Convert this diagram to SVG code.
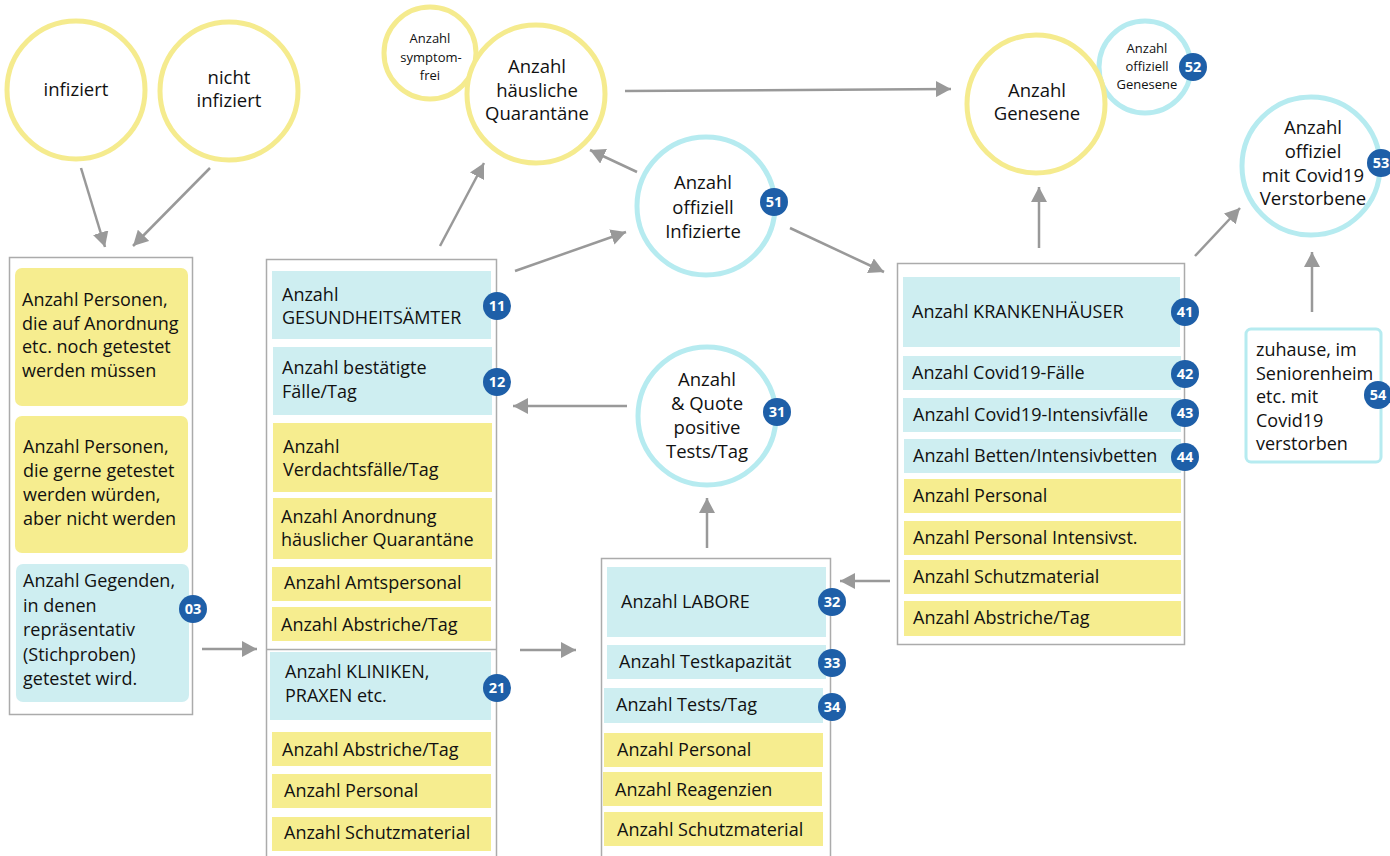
<svg xmlns="http://www.w3.org/2000/svg" width="1390" height="856" viewBox="0 0 1390 856">
<defs>
<marker id="ah" markerUnits="userSpaceOnUse" markerWidth="16" markerHeight="16" refX="15" refY="8" orient="auto">
<path d="M0,0 L15,8 L0,16 z" fill="#999"/>
</marker>
<style>
.t{font-family:"Open Sans","Noto Sans","Liberation Sans",sans-serif;font-size:18px;font-weight:500;fill:#111}
.c{text-anchor:middle;font-size:18.5px}
.s{text-anchor:middle;font-size:13px}
.y{fill:#F6ED8F}
.b{fill:#CEEEF1}
.frame{fill:none;stroke:#ABABAB;stroke-width:1.5}
.cy{fill:#fff;stroke:#F5EB8E;stroke-width:5}
.cb{fill:#fff;stroke:#B6EBF0;stroke-width:5}
.badge circle{fill:#1E5FA8}
.badge text{font-family:"Open Sans","Noto Sans","Liberation Sans",sans-serif;font-size:14.5px;font-weight:bold;fill:#fff;text-anchor:middle}
.ar{stroke:#999;stroke-width:2.5;fill:none;marker-end:url(#ah)}
</style>
</defs>
<rect width="1390" height="856" fill="#fff"/>

<g id="connectors">
<line class="ar" x1="81" y1="168" x2="105" y2="247"/>
<line class="ar" x1="210" y1="168" x2="133" y2="246"/>
<line class="ar" x1="202" y1="649" x2="257" y2="649"/>
<line class="ar" x1="440" y1="246" x2="484" y2="163"/>
<line class="ar" x1="515" y1="271" x2="626" y2="232"/>
<line class="ar" x1="637" y1="172" x2="590" y2="150"/>
<line class="ar" x1="625" y1="91" x2="951" y2="89"/>
<line class="ar" x1="627" y1="406" x2="513" y2="406"/>
<line class="ar" x1="520" y1="650" x2="576" y2="650"/>
<line class="ar" x1="707" y1="548" x2="707" y2="498"/>
<line class="ar" x1="890" y1="581" x2="840" y2="581"/>
<line class="ar" x1="790" y1="228" x2="884" y2="272"/>
<line class="ar" x1="1039" y1="248" x2="1039" y2="187"/>
<line class="ar" x1="1195" y1="256" x2="1240" y2="208"/>
<line class="ar" x1="1312" y1="312" x2="1312" y2="252"/>
</g>

<g id="infiziert">
<circle class="cy" cx="76" cy="90" r="69"/>
<text class="t c" x="76" y="96">infiziert</text>
</g>
<g id="nicht-infiziert">
<circle class="cy" cx="229" cy="91" r="69"/>
<text class="t c" x="229" y="84">nicht</text>
<text class="t c" x="229" y="107">infiziert</text>
</g>

<g id="links">
<rect class="frame" x="9.5" y="257.5" width="183" height="457"/>
<rect class="y" x="15" y="268" width="173" height="138" rx="7"/>
<text class="t" x="22" y="306">Anzahl Personen,</text>
<text class="t" x="22" y="329.5">die auf Anordnung</text>
<text class="t" x="22" y="353">etc. noch getestet</text>
<text class="t" x="22" y="376.5">werden müssen</text>
<rect class="y" x="15" y="416" width="173" height="137" rx="7"/>
<text class="t" x="23" y="453">Anzahl Personen,</text>
<text class="t" x="23" y="477">die gerne getestet</text>
<text class="t" x="23" y="501">werden würden,</text>
<text class="t" x="23" y="525">aber nicht werden</text>
<rect class="b" x="16" y="564" width="173" height="138" rx="7"/>
<text class="t" x="23" y="587">Anzahl Gegenden,</text>
<text class="t" x="23" y="611.5">in denen</text>
<text class="t" x="23" y="636">repräsentativ</text>
<text class="t" x="23" y="660.5">(Stichproben)</text>
<text class="t" x="23" y="685">getestet wird.</text>
<g class="badge"><circle cx="193" cy="609" r="14"/><text x="193" y="614">03</text></g>
</g>

<g id="gesundheitsaemter">
<rect class="frame" x="266.5" y="259.5" width="230" height="620"/>
<line x1="266.5" y1="649.5" x2="496.5" y2="649.5" stroke="#ABABAB" stroke-width="1.5"/>
<rect class="b" x="272" y="271" width="219" height="68"/>
<text class="t" x="282" y="301">Anzahl</text>
<text class="t" x="282" y="324">GESUNDHEITSÄMTER</text>
<g class="badge"><circle cx="497" cy="306" r="14"/><text x="497" y="311">11</text></g>
<rect class="b" x="273" y="347" width="219" height="68"/>
<text class="t" x="282" y="374">Anzahl bestätigte</text>
<text class="t" x="282" y="398">Fälle/Tag</text>
<g class="badge"><circle cx="497" cy="382" r="14"/><text x="497" y="387">12</text></g>
<rect class="y" x="273" y="423" width="219" height="69"/>
<text class="t" x="283" y="453">Anzahl</text>
<text class="t" x="283" y="476">Verdachtsfälle/Tag</text>
<rect class="y" x="273" y="498" width="219" height="61"/>
<text class="t" x="281" y="523">Anzahl Anordnung</text>
<text class="t" x="281" y="546">häuslicher Quarantäne</text>
<rect class="y" x="272" y="567" width="219" height="34"/>
<text class="t" x="284" y="589">Anzahl Amtspersonal</text>
<rect class="y" x="272" y="607" width="219" height="34"/>
<text class="t" x="281" y="631">Anzahl Abstriche/Tag</text>
</g>

<g id="kliniken">
<rect class="b" x="270" y="652" width="221" height="68"/>
<text class="t" x="285" y="678">Anzahl KLINIKEN,</text>
<text class="t" x="285" y="702">PRAXEN etc.</text>
<g class="badge"><circle cx="497" cy="688" r="14"/><text x="497" y="693">21</text></g>
<rect class="y" x="272" y="732" width="219" height="34"/>
<text class="t" x="282" y="756">Anzahl Abstriche/Tag</text>
<rect class="y" x="272" y="774" width="219" height="34"/>
<text class="t" x="284" y="797">Anzahl Personal</text>
<rect class="y" x="272" y="817" width="219" height="34"/>
<text class="t" x="284" y="839">Anzahl Schutzmaterial</text>
</g>

<g id="symptomfrei">
<circle class="cy" cx="430" cy="53" r="46"/>
<text class="t s" x="430" y="43">Anzahl</text>
<text class="t s" x="431" y="62">symptom-</text>
<text class="t s" x="430" y="80">frei</text>
</g>
<g id="quarantaene">
<circle class="cy" cx="536" cy="94" r="69"/>
<text class="t c" x="537" y="73">Anzahl</text>
<text class="t c" x="537" y="96.5">häusliche</text>
<text class="t c" x="537" y="120">Quarantäne</text>
</g>

<g id="offiziell-infizierte">
<circle class="cb" cx="706" cy="206" r="69"/>
<text class="t c" x="703" y="189">Anzahl</text>
<text class="t c" x="703" y="213.5">offiziell</text>
<text class="t c" x="703" y="238">Infizierte</text>
<g class="badge"><circle cx="774" cy="202" r="14"/><text x="774" y="207">51</text></g>
</g>

<g id="positive-tests">
<circle class="cb" cx="707" cy="416" r="69"/>
<text class="t c" x="707" y="386">Anzahl</text>
<text class="t c" x="707" y="410">&amp; Quote</text>
<text class="t c" x="707" y="434">positive</text>
<text class="t c" x="707" y="458">Tests/Tag</text>
<g class="badge"><circle cx="777" cy="412" r="14"/><text x="777" y="417">31</text></g>
</g>

<g id="labore">
<rect class="frame" x="601.5" y="558.5" width="229" height="320"/>
<rect class="b" x="607" y="567" width="219" height="70"/>
<text class="t" x="621" y="608">Anzahl LABORE</text>
<g class="badge"><circle cx="832" cy="602" r="14"/><text x="832" y="607">32</text></g>
<rect class="b" x="607" y="645" width="219" height="34"/>
<text class="t" x="619" y="668">Anzahl Testkapazität</text>
<g class="badge"><circle cx="832" cy="663" r="14"/><text x="832" y="668">33</text></g>
<rect class="b" x="604" y="688" width="219" height="35"/>
<text class="t" x="616" y="711">Anzahl Tests/Tag</text>
<g class="badge"><circle cx="832" cy="707" r="14"/><text x="832" y="712">34</text></g>
<rect class="y" x="604" y="733" width="219" height="34"/>
<text class="t" x="617" y="756">Anzahl Personal</text>
<rect class="y" x="603" y="772" width="219" height="34"/>
<text class="t" x="615" y="796">Anzahl Reagenzien</text>
<rect class="y" x="604" y="812" width="219" height="34"/>
<text class="t" x="617" y="836">Anzahl Schutzmaterial</text>
</g>

<g id="krankenhaeuser">
<rect class="frame" x="897.5" y="263.5" width="287" height="381"/>
<rect class="b" x="903" y="277" width="277" height="70"/>
<text class="t" x="912" y="318">Anzahl KRANKENHÄUSER</text>
<g class="badge"><circle cx="1185" cy="312" r="14"/><text x="1185" y="317">41</text></g>
<rect class="b" x="903" y="356" width="278" height="34"/>
<text class="t" x="912" y="379">Anzahl Covid19-Fälle</text>
<g class="badge"><circle cx="1185" cy="374" r="14"/><text x="1185" y="379">42</text></g>
<rect class="b" x="903" y="398" width="278" height="34"/>
<text class="t" x="913" y="421">Anzahl Covid19-Intensivfälle</text>
<g class="badge"><circle cx="1185" cy="413" r="14"/><text x="1185" y="418">43</text></g>
<rect class="b" x="904" y="439" width="277" height="34"/>
<text class="t" x="913" y="462">Anzahl Betten/Intensivbetten</text>
<g class="badge"><circle cx="1185" cy="457" r="14"/><text x="1185" y="462">44</text></g>
<rect class="y" x="904" y="479" width="277" height="34"/>
<text class="t" x="913" y="502">Anzahl Personal</text>
<rect class="y" x="904" y="521" width="277" height="34"/>
<text class="t" x="913" y="544">Anzahl Personal Intensivst.</text>
<rect class="y" x="904" y="560" width="277" height="34"/>
<text class="t" x="913" y="583">Anzahl Schutzmaterial</text>
<rect class="y" x="904" y="601" width="277" height="35"/>
<text class="t" x="913" y="624">Anzahl Abstriche/Tag</text>
</g>

<g id="offiziell-genesene">
<circle class="cb" cx="1145" cy="67" r="46"/>
<text class="t s" x="1147" y="53">Anzahl</text>
<text class="t s" x="1147" y="71">offiziell</text>
<text class="t s" x="1147" y="89">Genesene</text>
<g class="badge"><circle cx="1193" cy="67" r="14"/><text x="1193" y="72">52</text></g>
</g>
<g id="genesene">
<circle class="cy" cx="1036" cy="104" r="69"/>
<text class="t c" x="1037" y="97">Anzahl</text>
<text class="t c" x="1037" y="120">Genesene</text>
</g>

<g id="verstorbene">
<circle class="cb" cx="1311" cy="166" r="69"/>
<text class="t c" x="1313" y="134">Anzahl</text>
<text class="t c" x="1313" y="158">offiziel</text>
<text class="t c" x="1313" y="181.5">mit Covid19</text>
<text class="t c" x="1313" y="205">Verstorbene</text>
<g class="badge"><circle cx="1381" cy="163" r="14"/><text x="1381" y="168">53</text></g>
</g>

<g id="zuhause">
<rect x="1246" y="329" width="135" height="133" rx="5" fill="#fff" stroke="#B6EBF0" stroke-width="3"/>
<text class="t" x="1256" y="356">zuhause, im</text>
<text class="t" x="1256" y="379.5">Seniorenheim</text>
<text class="t" x="1256" y="403">etc. mit</text>
<text class="t" x="1256" y="426.5">Covid19</text>
<text class="t" x="1256" y="450">verstorben</text>
<g class="badge"><circle cx="1378" cy="395" r="14"/><text x="1378" y="400">54</text></g>
</g>
</svg>
